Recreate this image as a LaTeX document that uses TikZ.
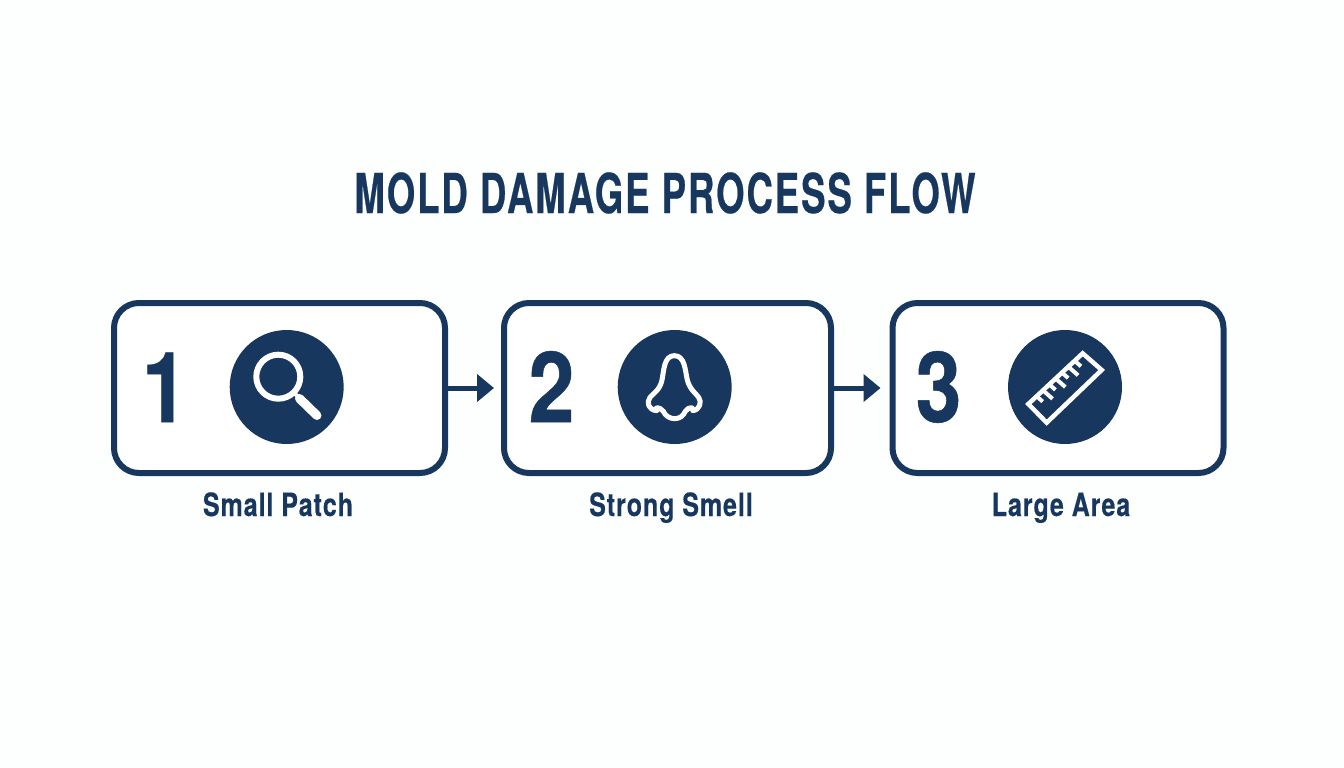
\documentclass[tikz,border=0pt]{standalone}
\usepackage{fontspec}
\usetikzlibrary{arrows.meta}
\newfontfamily\titlefont[FakeStretch=0.665,LetterSpace=3.5,FakeBold=0.4]{TeX Gyre Heros Bold}
\newfontfamily\labelfont[FakeStretch=0.78,LetterSpace=3.0,FakeBold=0.3]{TeX Gyre Heros Bold}
\newfontfamily\numfont[FakeStretch=0.84,FakeBold=0.5]{TeX Gyre Heros Bold}
\definecolor{navy}{HTML}{17375E}
\definecolor{paper}{HTML}{FDFEFE}
\tikzset{
  stepbox/.style={draw=navy,line width=6pt,rounded corners=25pt,fill=white,minimum height=170pt,inner sep=0pt},
  disc/.style={circle,fill=navy,minimum size=114pt,inner sep=0pt},
  numeral/.style={text=navy,font=\numfont\fontsize{98}{98}\selectfont,inner sep=0pt,anchor=base},
  caption/.style={text=navy,font=\labelfont\fontsize{32}{32}\selectfont,inner sep=0pt,anchor=base},
  link/.style={draw=navy,line width=5pt,-{Triangle[length=17pt,width=27pt]}},
  glyph/.style={draw=white,line width=5pt,line cap=round,line join=round},
}
\begin{document}
\begin{tikzpicture}[x=1pt,y=-1pt]
\useasboundingbox (0,0) rectangle (1344,768);
\fill[paper] (0,0) rectangle (1344,768);
\node[text=navy,font=\titlefont\fontsize{55}{55}\selectfont,inner sep=0pt,anchor=base] (title) at (665,213) {MOLD DAMAGE PROCESS FLOW};
\node[stepbox,minimum width=331pt] (b1) at (279.5,388) {};
\node[stepbox,minimum width=327pt] (b2) at (667.5,388) {};
\node[stepbox,minimum width=331pt] (b3) at (1058,388) {};
\node[numeral] (n1) at (165,422) {1};
\node[numeral] (n2) at (551.5,422) {2};
\node[numeral] (n3) at (938.5,422) {3};
\node[disc] (c1) at (286.7,387) {};
\node[disc] (c2) at (674.7,387) {};
\node[disc] (c3) at (1065,387) {};
\node[caption] (l1) at (278,516) {Small Patch};
\node[caption] (l2) at (671,516) {Strong Smell};
\node[caption] (l3) at (1061,516) {Large Area};
\draw[link,shorten >=7pt] (b1.east) -- (b2.west);
\draw[link,shorten >=9pt] (b2.east) -- (b3.west);
% magnifier
\draw[glyph,line width=6pt] (278.3,376.7) circle (22);
\draw[glyph,line width=4pt,line cap=butt] (294,392.5) -- (301,400);
\draw[glyph,line width=9pt] (299.5,398.5) -- (317,415.5);
% nose
\begin{scope}[shift={(600,320)},scale=1/3]
\draw[glyph] (170,272) .. controls (160,262) and (178,258) .. (190,274)
  .. controls (196,288) and (210,296) .. (224,296)
  .. controls (238,296) and (250,288) .. (256,274)
  .. controls (266,258) and (286,262) .. (278,272)
  .. controls (300,270) and (306,245) .. (296,232)
  .. controls (288,220) and (270,210) .. (262,180)
  .. controls (255,150) and (255,107) .. (223,107)
  .. controls (192,107) and (192,150) .. (186,180)
  .. controls (180,210) and (160,220) .. (150,232)
  .. controls (138,248) and (146,270) .. (170,272);
\end{scope}
% ruler
\begin{scope}[shift={(990,320)},scale=1/3]
\draw[glyph,line width=4.5pt,line cap=butt,line join=miter] (115,252) -- (278,100) -- (335,150) -- (170,308) -- cycle;
\foreach \t/\l in {34/24,60/38,86/24,112/38,138/24,164/38,190/24}{
  \draw[glyph,line width=4pt,line cap=butt] ({115+0.736*\t},{252-0.678*\t}) -- ++({0.75*\l},{0.66*\l});
}
\end{scope}
\end{tikzpicture}
\end{document}
